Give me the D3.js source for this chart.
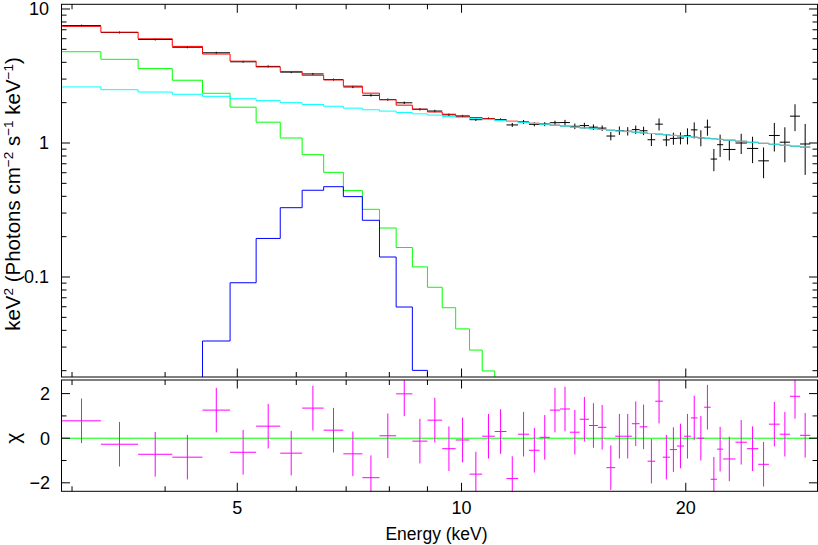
<!DOCTYPE html>
<html>
<head>
<meta charset="utf-8">
<script src="https://cdn.jsdelivr.net/npm/d3@7"></script>
<style>
  body { margin: 0; background: #fff; }
  svg { display: block; font-family: "Liberation Sans", Arial, sans-serif; }
</style>
</head>
<body>
<svg id="chart" width="818" height="545"></svg>
<script>
// bin edges (keV), 55 spectral bins
const binEdges = [2.91, 3.28, 3.68, 4.09, 4.49, 4.89, 5.30, 5.71, 6.11, 6.53, 6.94, 7.36, 7.76,
  8.17, 8.59, 9.00, 9.42, 9.82, 10.25, 10.66, 11.08, 11.49, 11.91, 12.32, 12.73, 13.14, 13.56,
  13.98, 14.41, 14.83, 15.24, 15.65, 16.08, 16.50, 16.93, 17.34, 17.77, 18.20, 18.63, 19.04,
  19.46, 19.89, 20.32, 20.74, 21.17, 21.60, 22.03, 22.45, 23.32, 24.16, 25.02, 25.86, 26.74,
  27.60, 28.47, 29.39];

// model components, keV^2 (photons cm^-2 s^-1 keV^-1)
const powerlaw = [2.62, 2.50, 2.40, 2.31, 2.23, 2.14, 2.07, 2.00, 1.94, 1.88, 1.82, 1.77, 1.73,
  1.69, 1.65, 1.615, 1.58, 1.55, 1.52, 1.495, 1.47, 1.445, 1.42, 1.40, 1.378, 1.357, 1.336,
  1.315, 1.295, 1.278, 1.262, 1.246, 1.231, 1.217, 1.203, 1.190, 1.177, 1.164, 1.152, 1.140,
  1.128, 1.117, 1.106, 1.095, 1.085, 1.075, 1.065, 1.050, 1.031, 1.012, 0.995, 0.978, 0.962,
  0.946, 0.932];
const thermal = [4.80, 4.21, 3.59, 2.94, 2.35, 1.85, 1.43, 1.09, 0.818, 0.604, 0.441, 0.320,
  0.232, 0.166, 0.119, 0.0838, 0.059, 0.041, 0.0285, 0.0199, 0.0137, 0.0094, 0.0064, 0.0043,
  0.0029, 0.0019, 0.0013, 0.0009, 0.0006];
const gaussLine = [0.0002, 0.0009, 0.003, 0.0095, 0.0333, 0.0906, 0.194, 0.329, 0.444, 0.472,
  0.398, 0.265, 0.141, 0.0597, 0.0201, 0.0055, 0.0013, 0.0003];

// unfolded data and 1-sigma errors
const flux = [7.519, 6.680, 5.919, 5.183, 4.713, 4.037, 3.728, 3.380, 3.276, 2.974, 2.621, 2.269,
  2.108, 1.995, 1.784, 1.732, 1.623, 1.588, 1.493, 1.518, 1.494, 1.364, 1.435, 1.378, 1.383,
  1.418, 1.421, 1.333, 1.349, 1.313, 1.292, 1.127, 1.239, 1.225, 1.259, 1.234, 1.058, 1.382,
  1.055, 1.082, 1.088, 1.131, 1.253, 1.095, 1.314, 0.759, 0.971, 0.895, 1.000, 0.911, 0.736,
  1.138, 1.014, 1.586, 0.983];
const fluxErr = [0.129, 0.115, 0.102, 0.089, 0.081, 0.069, 0.064, 0.058, 0.056, 0.051, 0.054,
  0.047, 0.043, 0.041, 0.037, 0.036, 0.036, 0.035, 0.033, 0.034, 0.033, 0.047, 0.049, 0.047,
  0.048, 0.049, 0.068, 0.064, 0.065, 0.063, 0.062, 0.081, 0.089, 0.088, 0.091, 0.089, 0.109,
  0.142, 0.109, 0.112, 0.112, 0.155, 0.172, 0.150, 0.181, 0.143, 0.184, 0.154, 0.172, 0.203,
  0.190, 0.274, 0.296, 0.36, 0.405];

// residuals (data - model) / error
const chi = [0.78, -0.27, -0.72, -0.85, 1.26, -0.63, 0.54, -0.67, 1.35, 0.36, -0.70, -1.77, 0.11,
  1.99, -0.13, 0.81, -0.47, -0.08, -1.61, 0.09, 0.30, -1.81, 0.18, -0.54, 0.04, 1.26, 1.31, 0.27,
  0.85, 0.57, 0.49, -1.32, 0.09, 0.09, 0.65, 0.51, -1.03, 1.66, -0.85, -0.51, -0.35, 0.09, 0.91,
  0.00, 1.39, -1.84, -0.49, -0.93, -0.18, -0.47, -1.17, 0.63, 0.18, 1.88, 0.13];

const xMajor = [5, 10, 20], xMajorLabels = ["5", "10", "20"];
const xMinor = [3, 4, 6, 7, 8, 9];
const yMajor = [0.1, 1, 10], yMajorLabels = ["0.1", "1", "10"];
const yMinor = [0.02, 0.03, 0.04, 0.05, 0.06, 0.07, 0.08, 0.09, 0.2, 0.3, 0.4, 0.5, 0.6, 0.7,
  0.8, 0.9, 2, 3, 4, 5, 6, 7, 8, 9];
const chiMajor = [-2, 0, 2], chiMajorLabels = ["\u22122", "0", "2"];
const chiMinor = [-1, 1];

const svg = d3.select("#chart");
const L = 61.5, R = 817.5, topT = 4.3, topB = 377, resT = 380, resB = 491.3;
const majLen = 8.5, minLen = 5;

const x = d3.scaleLog().domain([2.904, 30.05]).range([L, R]);
const y = d3.scaleLog().domain([0.01794, 10.84]).range([topB, topT]);
const yr = d3.scaleLinear().domain([-2.38, 2.61]).range([resB, resT]);

const total = powerlaw.map((p, i) => p + (thermal[i] || 0) + (gaussLine[i] || 0));

const defs = svg.append("defs");
defs.append("clipPath").attr("id", "clipTop").append("rect")
  .attr("x", L).attr("y", topT).attr("width", R - L).attr("height", topB - topT);
defs.append("clipPath").attr("id", "clipRes").append("rect")
  .attr("x", L).attr("y", resT).attr("width", R - L).attr("height", resB - resT);

function stepPath(vals, ys) {
  const p = d3.path();
  vals.forEach((v, i) => {
    const x0 = x(binEdges[i]), x1 = x(binEdges[i + 1]), yy = ys(v);
    if (i === 0) p.moveTo(x0, yy); else p.lineTo(x0, yy);
    p.lineTo(x1, yy);
  });
  return p.toString();
}
const binMid = i => x(Math.sqrt(binEdges[i] * binEdges[i + 1]));
const bins = d3.range(flux.length);

// ---- top panel: data crosses, then model and its components
const specG = svg.append("g").attr("clip-path", "url(#clipTop)");
specG.selectAll("line.dh").data(bins).join("line").attr("class", "dh")
  .attr("x1", i => x(binEdges[i])).attr("x2", i => x(binEdges[i + 1]))
  .attr("y1", i => y(flux[i])).attr("y2", i => y(flux[i]))
  .attr("stroke", "#000").attr("stroke-width", 1);
specG.selectAll("line.dv").data(bins).join("line").attr("class", "dv")
  .attr("x1", binMid).attr("x2", binMid)
  .attr("y1", i => y(flux[i] + fluxErr[i])).attr("y2", i => y(flux[i] - fluxErr[i]))
  .attr("stroke", "#000").attr("stroke-width", 1);

const models = [
  { vals: total, color: "#ff0000" },
  { vals: thermal, color: "#00ff00" },
  { vals: gaussLine, color: "#0000ff" },
  { vals: powerlaw, color: "#00ffff" }
];
models.forEach(m => {
  specG.append("path").attr("d", stepPath(m.vals, y))
    .attr("fill", "none").attr("stroke", m.color).attr("stroke-width", 1);
});

// ---- residual panel
const resG = svg.append("g").attr("clip-path", "url(#clipRes)");
resG.append("line").attr("class", "zero")
  .attr("x1", L).attr("x2", R).attr("y1", yr(0)).attr("y2", yr(0))
  .attr("stroke", "#00ff00").attr("stroke-width", 1);
resG.selectAll("line.rh").data(bins).join("line").attr("class", "rh")
  .attr("x1", i => x(binEdges[i])).attr("x2", i => x(binEdges[i + 1]))
  .attr("y1", i => yr(chi[i])).attr("y2", i => yr(chi[i]))
  .attr("stroke", "#ff00ff").attr("stroke-width", 1);
resG.selectAll("line.rv").data(bins).join("line").attr("class", "rv")
  .attr("x1", binMid).attr("x2", binMid)
  .attr("y1", i => yr(chi[i] + 1)).attr("y2", i => yr(chi[i] - 1))
  .attr("stroke", "#ff00ff").attr("stroke-width", 1);

// ---- frames and ticks
const axes = svg.append("g").attr("stroke", "#000").attr("stroke-width", 1).attr("fill", "none");
[[topT, topB], [resT, resB]].forEach(([t, b]) => {
  axes.append("rect").attr("x", L).attr("y", t).attr("width", R - L).attr("height", b - t);
  xMajor.concat(xMinor).forEach(v => {
    const len = xMajor.includes(v) ? majLen : minLen;
    axes.append("line").attr("x1", x(v)).attr("x2", x(v)).attr("y1", t).attr("y2", t + len);
    axes.append("line").attr("x1", x(v)).attr("x2", x(v)).attr("y1", b).attr("y2", b - len);
  });
});
function yTicks(scale, major, minor) {
  major.concat(minor).forEach(v => {
    const len = major.includes(v) ? majLen : minLen, yy = scale(v);
    axes.append("line").attr("x1", L).attr("x2", L + len).attr("y1", yy).attr("y2", yy);
    axes.append("line").attr("x1", R).attr("x2", R - len).attr("y1", yy).attr("y2", yy);
  });
}
yTicks(y, yMajor, yMinor);
yTicks(yr, chiMajor, chiMinor);

// ---- labels
const fs = 18;
svg.selectAll("text.yl").data(yMajor).join("text").attr("class", "yl")
  .attr("x", 49).attr("y", d => y(d)).attr("dy", "0.36em")
  .attr("text-anchor", "end").attr("font-size", fs).text((d, i) => yMajorLabels[i]);
svg.selectAll("text.cl").data(chiMajor).join("text").attr("class", "cl")
  .attr("x", 50).attr("y", d => yr(d)).attr("dy", "0.36em")
  .attr("text-anchor", "end").attr("font-size", fs).text((d, i) => chiMajorLabels[i]);
svg.selectAll("text.xl").data(xMajor).join("text").attr("class", "xl")
  .attr("x", d => x(d)).attr("y", 514)
  .attr("text-anchor", "middle").attr("font-size", fs).text((d, i) => xMajorLabels[i]);

svg.append("text").attr("x", (L + R) / 2 - 3).attr("y", 540)
  .attr("text-anchor", "middle").attr("font-size", 17.5).text("Energy (keV)");

const yTitle = svg.append("text")
  .attr("transform", "translate(19.5,194) rotate(-90)")
  .attr("text-anchor", "middle").attr("font-size", 20.5);
const parts = [["keV", 0], ["2", 1], [" (Photons cm", 0], ["\u22122", 1], [" s", 0],
  ["\u22121", 1], [" keV", 0], ["\u22121", 1], [")", 0]];
let raised = false;
parts.forEach(([t, sup]) => {
  const ts = yTitle.append("tspan").text(t);
  if (sup) {
    ts.attr("font-size", 13.5);
    if (!raised) { ts.attr("dy", -7); raised = true; }
  } else if (raised) { ts.attr("dy", 7); raised = false; }
});

svg.append("text")
  .attr("transform", `translate(19.5,${yr(0)}) rotate(-90)`)
  .attr("text-anchor", "middle").attr("font-size", 21).text("\u03c7");
</script>
</body>
</html>
